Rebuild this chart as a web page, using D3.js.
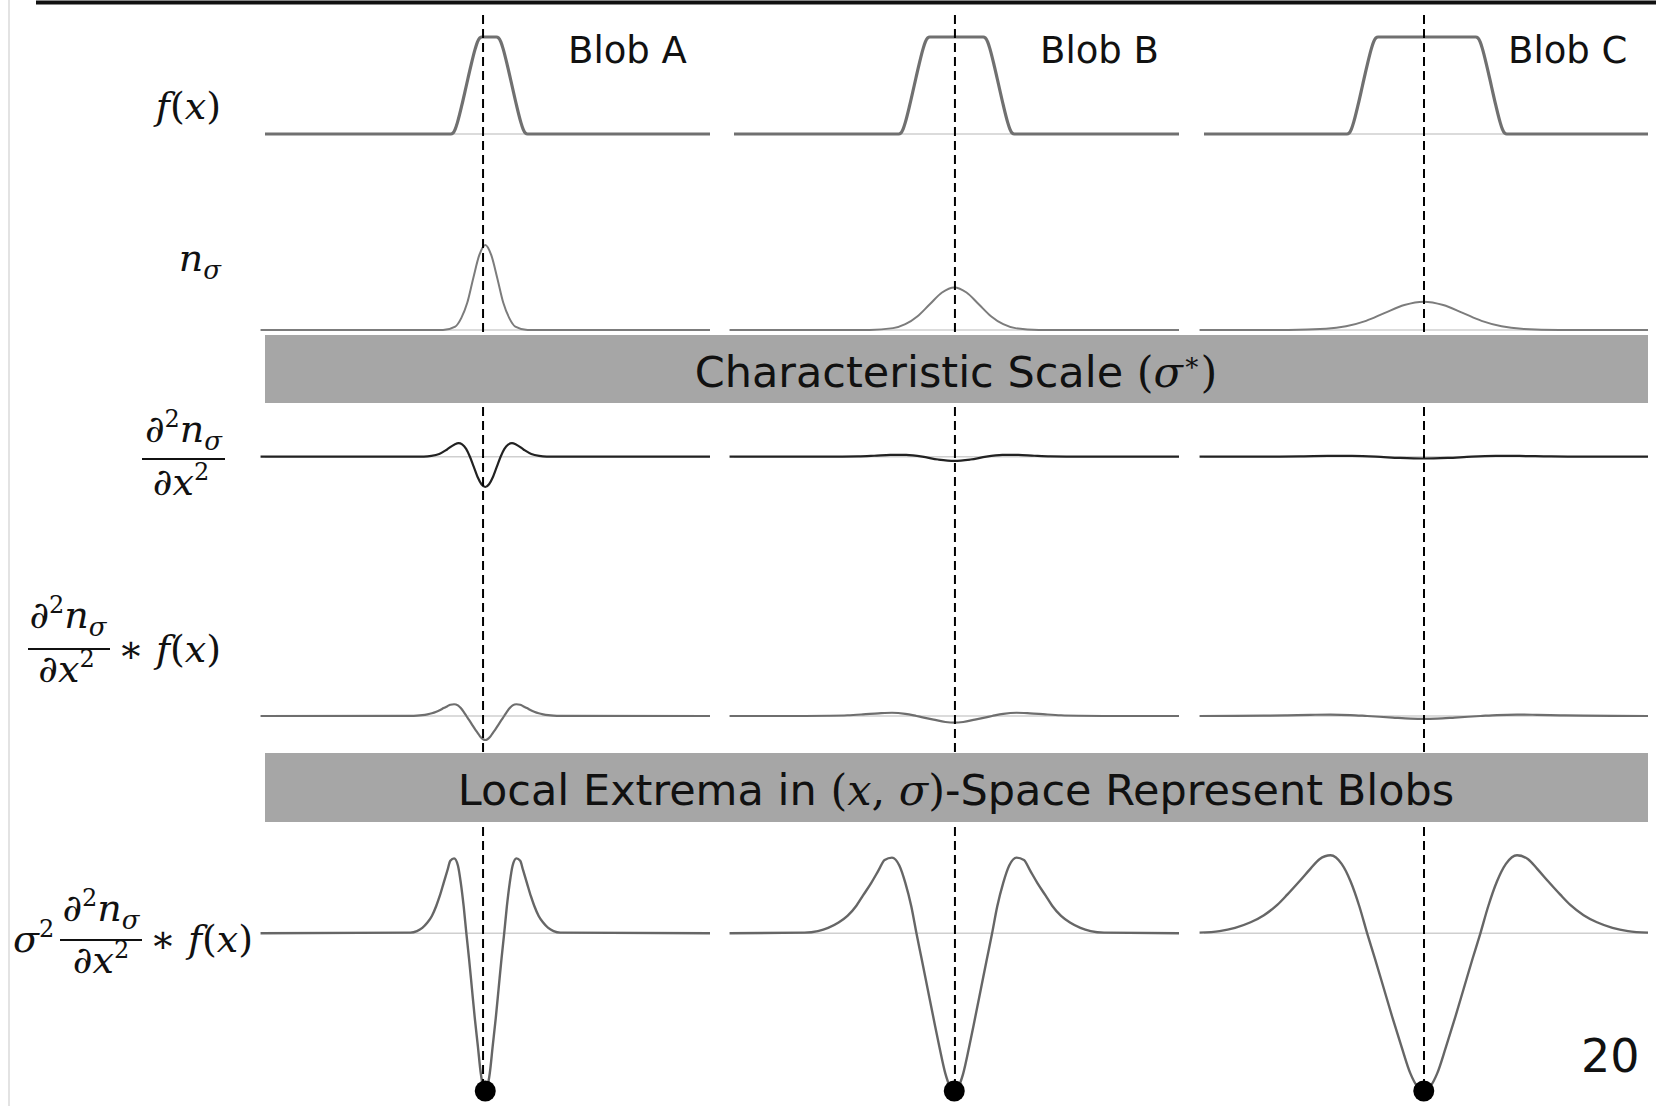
<!DOCTYPE html>
<html>
<head>
<meta charset="utf-8">
<script src="https://cdn.jsdelivr.net/npm/d3@7"></script>
<style>
body { margin: 0; background: #fff; }
svg { display: block; }
.sans { font-family: "DejaVu Sans", Verdana, sans-serif; }
.math { font-family: "DejaVu Serif", serif; }
</style>
</head>
<body>
<svg id="chart" width="1656" height="1106"></svg>
<script>
// ---- data (x in blob units, 0 = blob centre) ----
var blobNames = ["Blob A", "Blob B", "Blob C"];
var dashX = [-1, 0.3, 0.1];

// f(x): smoothed boxes of growing width
var fA = [[-99,0],[-15.5,0],[-14.5,0.01],[-13.5,0.05],[-12.5,0.12],[-10.5,0.3],[-8.5,0.5],[-6.5,0.7],[-4.5,0.88],[-3.5,0.95],[-2.5,0.99],[-1.5,1],
	[5,1],[6,0.99],[7,0.95],[8,0.88],[10,0.7],[12,0.5],[14,0.3],[16,0.12],[17,0.05],[18,0.01],[19,0],[101,0]];
var fB = [[-99,0],[-25,0],[-24,0.01],[-23,0.05],[-22,0.12],[-20,0.3],[-18,0.5],[-16,0.7],[-14,0.88],[-13,0.95],[-12,0.99],[-11,1],
	[13,1],[14,0.99],[15,0.95],[16,0.88],[18,0.7],[20,0.5],[22,0.3],[24,0.12],[25,0.05],[26,0.01],[27,0],[101,0]];
var fC = [[-99,0],[-34.6,0],[-33.6,0.01],[-32.6,0.05],[-31.6,0.12],[-29.6,0.3],[-27.6,0.5],[-25.6,0.7],[-23.6,0.88],[-22.6,0.95],[-21.6,0.99],[-20.6,1],
	[23.4,1],[24.4,0.99],[25.4,0.95],[26.4,0.88],[28.4,0.7],[30.4,0.5],[32.4,0.3],[34.4,0.12],[35.4,0.05],[36.4,0.01],[37.4,0],[101,0]];

// symmetric curves: right half only (x >= 0)
var nA = [[0,1],[2.7,0.88],[5.4,0.61],[8.1,0.32],[10.8,0.14],[13.5,0.04],[19,0],[101,0]];
var nB = [[0,0.5],[5.5,0.441],[11,0.303],[16.5,0.162],[22,0.068],[27.5,0.022],[38,0.001],[101,0]];
var nC = [[0,0.333],[8.75,0.294],[17.5,0.202],[26,0.108],[35,0.045],[44,0.015],[61,0.001],[101,0]];

var d2A = [[0,-1],[1.7,-0.908],[3.5,-0.662],[5.2,-0.33],[6.9,0],[8.6,0.258],[10.4,0.406],[12,0.446],[13.8,0.406],[17.3,0.231],[20.7,0.089],[24.2,0.025],[27.6,0.005],[101,0]];
var d2B = [[0,-0.14],[7.2,-0.093],[14.4,0],[21.6,0.057],[25,0.062],[28.8,0.057],[36,0.032],[43.2,0.012],[57.6,0.001],[101,0]];
var d2C = [[0,-0.06],[10.8,-0.04],[21.6,0],[32.4,0.024],[37.4,0.027],[43.2,0.024],[54,0.014],[64.8,0.005],[75.6,0.0015],[101,0]];

var convA = [[0,-1],[1,-0.97],[2,-0.89],[3.3,-0.72],[4.7,-0.54],[6,-0.35],[7.3,-0.16],[8.5,0],[9.7,0.17],[11,0.33],[12.3,0.44],[14,0.49],[15.7,0.47],[17,0.41],[18.7,0.33],[20.5,0.24],[22,0.18],[24,0.115],[26,0.07],[28.3,0.035],[30.7,0.014],[33.7,0.004],[101,0]];
var convB = [[0,-0.28],[4,-0.25],[9.3,-0.15],[14.7,-0.045],[17,0],[22,0.09],[28,0.135],[34,0.112],[41,0.068],[48,0.031],[56.7,0.01],[67,0.001],[101,0]];
var convC = [[0,-0.12],[6,-0.107],[14,-0.065],[25.5,0],[33,0.04],[42,0.06],[51,0.049],[61.5,0.03],[72,0.014],[85,0.004],[101,0]];

var normA = [[0,-1],[1,-0.97],[2,-0.89],[3.3,-0.72],[4.7,-0.54],[6,-0.35],[7.3,-0.16],[8.5,0],[9.7,0.17],[11,0.32],[12.3,0.43],[14,0.475],[15.7,0.46],[17,0.4],[18.7,0.32],[20.5,0.235],[22,0.175],[24,0.11],[26,0.068],[28.3,0.034],[30.7,0.014],[33.7,0.004],[101,0]];
var normB = [[0,-1],[2,-0.97],[4,-0.89],[6.7,-0.72],[9.3,-0.54],[12,-0.35],[14.7,-0.16],[17,0],[19.3,0.17],[22,0.32],[24.7,0.43],[28,0.48],[31.3,0.465],[34,0.4],[37.3,0.32],[41,0.24],[44,0.175],[48,0.11],[52,0.068],[56.7,0.034],[61.3,0.014],[67.3,0.004],[101,0]];
var normC = [[0,-1],[3,-0.97],[6,-0.89],[10,-0.72],[14,-0.54],[18,-0.35],[22,-0.16],[25.5,0],[29,0.17],[33,0.33],[37,0.44],[42,0.495],[47,0.47],[51,0.41],[56,0.33],[61.5,0.245],[66,0.18],[72,0.115],[78,0.07],[85,0.035],[92,0.014],[101,0.004]];

var bandTexts = ["Characteristic Scale", "Local Extrema in"];

// ---- layout ----
var svg = d3.select("#chart");
var panelRange = [[265, 710], [734, 1179], [1204, 1648]];
var xs = panelRange.map(function(r) {
	return d3.scaleLinear().domain([-99, 101]).range(r);
});

function mirror(half) {
	var left = half.filter(function(p) { return p[0] > 0; })
		.map(function(p) { return [-p[0], p[1]]; }).reverse();
	return left.concat(half);
}

var rows = [
	{key: "f", curves: [fA, fB, fC], sym: false, domain: [0, 1], range: [134, 37], color: "#707070", width: 3.2},
	{key: "n", curves: [nA, nB, nC], sym: true, domain: [0, 1], range: [330, 245], color: "#7c7c7c", width: 2},
	{key: "d2", curves: [d2A, d2B, d2C], sym: true, domain: [-1, 1], range: [487, 426.4], color: "#222", width: 2.2},
	{key: "conv", curves: [convA, convB, convC], sym: true, domain: [-1, 1], range: [740, 692], color: "#6e6e6e", width: 2.2},
	{key: "norm", curves: [normA, normB, normC], sym: true, domain: [-1, 1], range: [1091, 775.6], color: "#666", width: 2.4}
];

// page frame
svg.append("line").attr("x1", 9).attr("x2", 9).attr("y1", 0).attr("y2", 1106)
	.attr("stroke", "#e3e3e3").attr("stroke-width", 2);
svg.append("line").attr("x1", 36).attr("x2", 1656).attr("y1", 2.5).attr("y2", 2.5)
	.attr("stroke", "#111").attr("stroke-width", 4);

rows.forEach(function(row) {
	var y = d3.scaleLinear().domain(row.domain).range(row.range);
	row.y = y;
	row.curves.forEach(function(c, i) {
		var x = xs[i];
		var pts = row.sym ? mirror(c) : c;
		// zero line
		svg.append("line")
			.attr("x1", x(-99)).attr("x2", x(101))
			.attr("y1", y(0)).attr("y2", y(0))
			.attr("stroke", "#cfcfcf").attr("stroke-width", 1.5);
		var line = d3.line()
			.x(function(d) { return x(d[0]); })
			.y(function(d) { return y(d[1]); })
			.curve(d3.curveMonotoneX);
		svg.append("path")
			.attr("d", line(pts))
			.attr("fill", "none")
			.attr("stroke", row.color)
			.attr("stroke-width", row.width)
			.attr("stroke-linejoin", "round");
	});
});

// dashed centre lines
dashX.forEach(function(d, i) {
	svg.append("line")
		.attr("x1", xs[i](d)).attr("x2", xs[i](d))
		.attr("y1", 15).attr("y2", 1098)
		.attr("stroke", "#000").attr("stroke-width", 2)
		.attr("stroke-dasharray", "9,5");
});

// grey bands
var bands = [{y0: 335, y1: 403}, {y0: 753, y1: 822}];
bands.forEach(function(b) {
	svg.append("rect")
		.attr("x", 265).attr("y", b.y0)
		.attr("width", 1648 - 265).attr("height", b.y1 - b.y0)
		.attr("fill", "#a6a6a6");
});

var t1 = svg.append("text").attr("class", "sans")
	.attr("x", 956).attr("y", 387).attr("text-anchor", "middle")
	.attr("font-size", 43).attr("fill", "#111");
t1.append("tspan").text(bandTexts[0] + " ");
t1.append("tspan").attr("class", "math").text("(");
t1.append("tspan").attr("class", "math").attr("font-style", "italic").text("σ");
t1.append("tspan").attr("class", "math").attr("font-size", 26).attr("dy", -16).text("∗");
t1.append("tspan").attr("class", "math").attr("dy", 16).text(")");

var t2 = svg.append("text").attr("class", "sans")
	.attr("x", 956).attr("y", 805).attr("text-anchor", "middle")
	.attr("font-size", 43).attr("fill", "#111");
t2.append("tspan").text(bandTexts[1] + " ");
t2.append("tspan").attr("class", "math").text("(");
t2.append("tspan").attr("class", "math").attr("font-style", "italic").text("x");
t2.append("tspan").attr("class", "math").text(", ");
t2.append("tspan").attr("class", "math").attr("font-style", "italic").text("σ");
t2.append("tspan").attr("class", "math").text(")");
t2.append("tspan").text("-Space Represent Blobs");

// extrema dots
var normRow = rows[4];
xs.forEach(function(x) {
	svg.append("circle")
		.attr("cx", x(0)).attr("cy", normRow.y(-1))
		.attr("r", 10.5).attr("fill", "#000");
});

// blob titles
var blobX = [568, 1040, 1508];
blobNames.forEach(function(name, i) {
	svg.append("text").attr("class", "sans")
		.attr("x", blobX[i]).attr("y", 63)
		.attr("font-size", 37).attr("fill", "#111")
		.text(name);
});

// ---- row labels ----
function mtext(x, y, anchor, parts) {
	var t = svg.append("text").attr("class", "math")
		.attr("x", x).attr("y", y).attr("text-anchor", anchor)
		.attr("font-size", 38).attr("fill", "#111");
	parts.forEach(function(p) {
		var s = t.append("tspan").text(p[0]);
		if (p[1] && p[1].indexOf("i") >= 0) s.attr("font-style", "italic");
		if (p[2]) s.attr("font-size", p[2]);
		if (p[3]) s.attr("dy", p[3]);
	});
	return t;
}
function bar(x1, x2, y) {
	svg.append("line").attr("x1", x1).attr("x2", x2).attr("y1", y).attr("y2", y)
		.attr("stroke", "#111").attr("stroke-width", 2);
}
var fxParts = [["f", "i"], ["("], ["x", "i"], [")"]];
var numParts = [["∂"], ["2", "", 24, -15], ["n", "i", null, 15], ["σ", "i", 26, 8]];
var denParts = [["∂"], ["x", "i"], ["2", "", 24, -15]];

mtext(221, 119, "end", fxParts);
mtext(221, 271, "end", [["n", "i"], ["σ", "i", 26, 8]]);

mtext(183.5, 442, "middle", numParts);
bar(142, 225, 459);
mtext(181, 495, "middle", denParts);

mtext(68, 628, "middle", numParts);
bar(28, 110, 649);
mtext(66.5, 682, "middle", denParts);
mtext(118, 662, "start", [["∗ "]].concat(fxParts));

mtext(13, 952, "start", [["σ", "i"], ["2", "", 24, -15]]);
mtext(101, 921, "middle", numParts);
bar(60, 142, 940);
mtext(101, 973, "middle", denParts);
mtext(150, 952, "start", [["∗ "]].concat(fxParts));

// page number
svg.append("text").attr("class", "sans")
	.attr("x", 1581).attr("y", 1072).attr("font-size", 46).attr("fill", "#111")
	.text("20");
</script>
</body>
</html>
